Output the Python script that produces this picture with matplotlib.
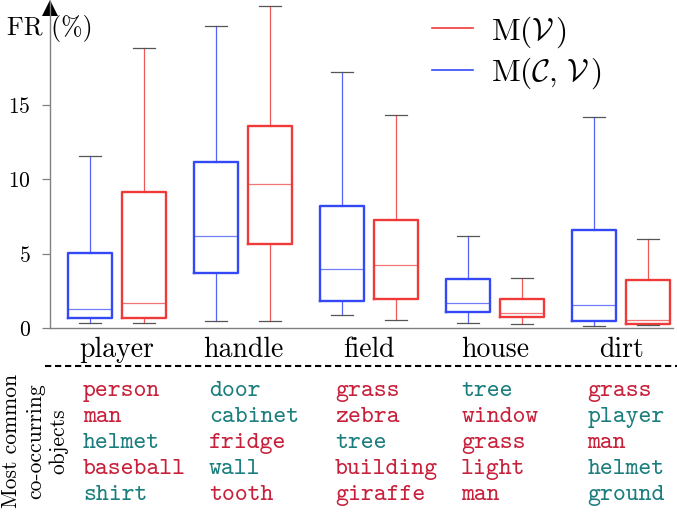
import matplotlib
matplotlib.use('Agg')
import matplotlib.pyplot as plt
from matplotlib.lines import Line2D
from matplotlib.transforms import blended_transform_factory

plt.rcParams['mathtext.fontset'] = 'cm'
plt.rcParams['font.family'] = ['cmr10', 'DejaVu Serif']
plt.rcParams['axes.formatter.use_mathtext'] = True

CATEGORIES = ['player', 'handle', 'field', 'house', 'dirt']

# five-number summaries (whislo, q1, med, q3, whishi) in %
CV_STATS = [
    (0.36, 0.67, 1.28, 5.03, 11.56),
    (0.47, 3.69, 6.17, 11.20, 20.36),
    (0.85, 1.79, 3.96, 8.21, 17.25),
    (0.34, 1.10, 1.66, 3.29, 6.22),
    (0.15, 0.49, 1.57, 6.60, 14.18),
]
V_STATS = [
    (0.36, 0.67, 1.66, 9.17, 18.84),
    (0.47, 5.64, 9.73, 13.58, 21.68),
    (0.56, 1.95, 4.27, 7.25, 14.32),
    (0.25, 0.72, 1.00, 1.93, 3.36),
    (0.20, 0.27, 0.56, 3.24, 5.99),
]

OBJECTS = [
    ['person', 'man', 'helmet', 'baseball', 'shirt'],
    ['door', 'cabinet', 'fridge', 'wall', 'tooth'],
    ['grass', 'zebra', 'tree', 'building', 'giraffe'],
    ['tree', 'window', 'grass', 'light', 'man'],
    ['grass', 'player', 'man', 'helmet', 'ground'],
]
# r = red word, t = teal word
OBJECT_TAGS = [
    ['r', 'r', 't', 'r', 't'],
    ['t', 't', 'r', 't', 'r'],
    ['r', 'r', 't', 'r', 'r'],
    ['t', 'r', 'r', 'r', 'r'],
    ['r', 't', 'r', 't', 't'],
]

YTICKS = [0, 5, 10, 15]

BLUE = '#3548f8'
RED = '#f03a3a'
TXT_COLORS = {'r': '#c8203a', 't': '#1b7d7d'}


def to_stats(rows):
    return [dict(whislo=a, q1=b, med=c, q3=d, whishi=e, fliers=[]) for a, b, c, d, e in rows]


fig = plt.figure(figsize=(6.77, 5.23), dpi=100)
ax = fig.add_axes([50 / 677, 195 / 523, 623 / 677, 326.7 / 523])

off = 0.215
w = 0.35
for stats, color, shift in [(to_stats(CV_STATS), BLUE, -off), (to_stats(V_STATS), RED, off)]:
    pos = [i + shift for i in range(len(CATEGORIES))]
    ax.bxp(stats, positions=pos, widths=w, showfliers=False, manage_ticks=False,
           capwidths=w * 0.5,
           boxprops=dict(color=color, linewidth=1.7),
           whiskerprops=dict(color=color, linewidth=0.9, alpha=0.85),
           medianprops=dict(color=color, linewidth=0.9, alpha=0.7),
           capprops=dict(color='#555555', linewidth=0.9))

ax.set_xlim(-0.53, len(CATEGORIES) - 1 + 0.41)
ax.set_ylim(0, 22)
ax.set_xticks(range(len(CATEGORIES)))
ax.set_xticklabels(CATEGORIES, fontsize=20)
ax.tick_params(axis='x', length=0, pad=6)
ax.set_yticks(YTICKS)
ax.tick_params(axis='y', labelsize=15.5, length=6, width=0.9, color='#808080', pad=8)
for s in ['top', 'right']:
    ax.spines[s].set_visible(False)
for s in ['left', 'bottom']:
    ax.spines[s].set_color('#808080')
    ax.spines[s].set_linewidth(1.0)

# arrow on top of the y axis
ax.plot([0], [0.9795], marker='^', markersize=11, color='black', transform=ax.transAxes,
        clip_on=False, markeredgewidth=0)

fig.text(7 / 677, 1 - 28 / 523, 'FR (%)', fontsize=18.5, ha='left', va='center')

# legend
handles = [Line2D([], [], color=RED, linewidth=1.2), Line2D([], [], color=BLUE, linewidth=1.2)]
fig.legend(handles, [r'M$(\mathcal{V}\,)$', r'M$(\mathcal{C},\,\mathcal{V}\,)$'],
           loc='upper left', bbox_to_anchor=(432 / 677, 1 - 14 / 523), frameon=False,
           fontsize=22.5, handlelength=1.3, handletextpad=0.6, labelspacing=0.2,
           borderpad=0, borderaxespad=0)

# dashed separator
fig.add_artist(Line2D([45 / 677, 1.0], [1 - 366 / 523, 1 - 366 / 523], transform=fig.transFigure,
                      color='black', linewidth=1.5, linestyle=(0, (3, 1.8))))

# co-occurring objects table
trans = blended_transform_factory(ax.transData, fig.transFigure)
row_y = [391, 417, 443, 469, 496]
for i, (words, tags) in enumerate(zip(OBJECTS, OBJECT_TAGS)):
    for word, tag, yp in zip(words, tags, row_y):
        ax.text(i - 0.27, 1 - yp / 523, word, transform=trans, ha='left', va='center',
                fontsize=17.7, family='cmtt10', color=TXT_COLORS[tag], clip_on=False)

fig.text(35 / 677, 1 - 441 / 523, 'Most common\nco-occurring\nobjects', rotation=90,
         ha='center', va='center', fontsize=15.5, multialignment='center', linespacing=1.25)

fig.savefig('out.png', dpi=100)
